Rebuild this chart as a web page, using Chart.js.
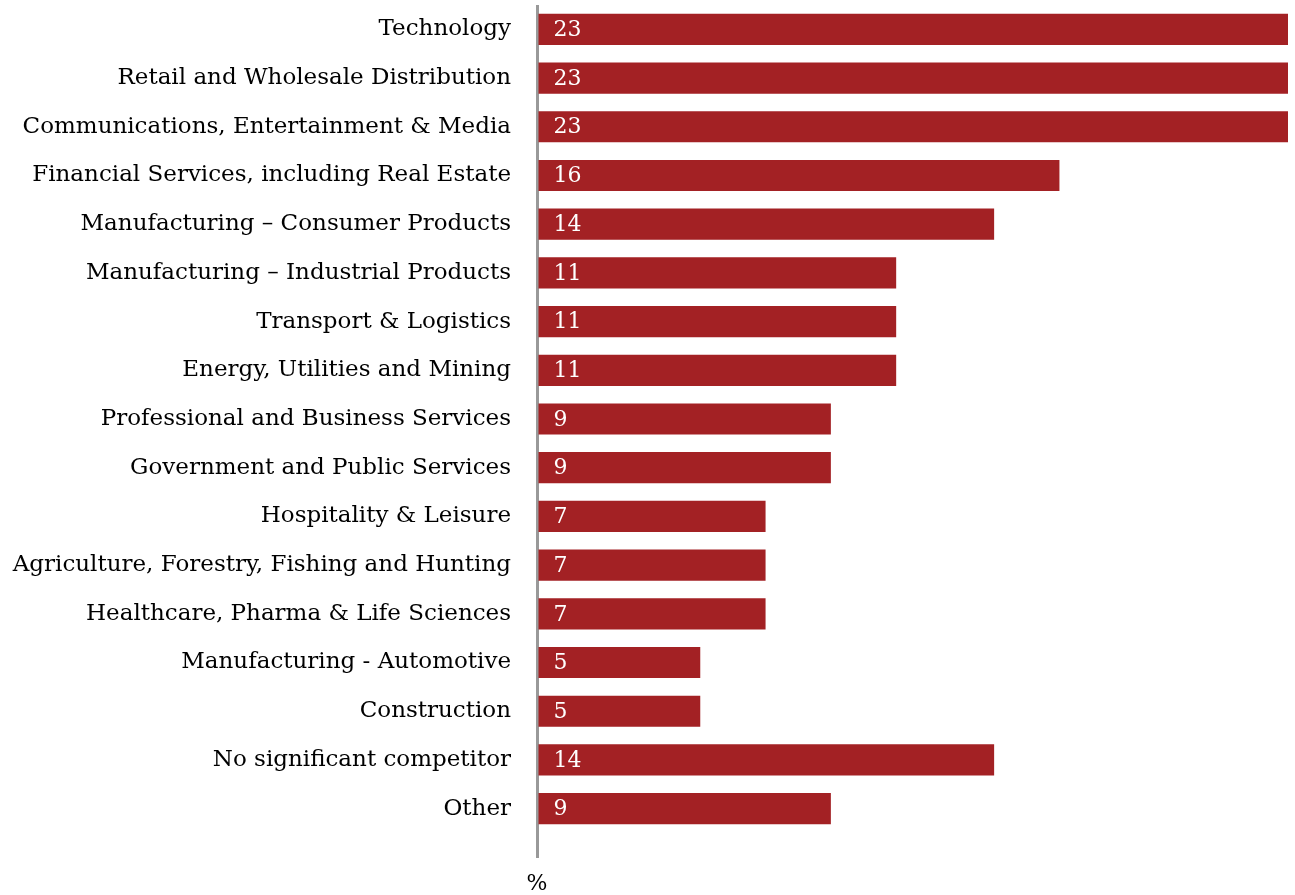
<!DOCTYPE html>
<html>
<head>
<meta charset="utf-8">
<script src="https://cdn.jsdelivr.net/npm/chart.js@4/dist/chart.umd.min.js"></script>
<style>
  html, body { margin: 0; padding: 0; background: #ffffff; }
  #wrap { width: 1295px; height: 895px; }
</style>
</head>
<body>
<div id="wrap"><canvas id="c"></canvas></div>
<script>
// Sectors and the share (%) citing each one
const categories = [
  'Technology',
  'Retail and Wholesale Distribution',
  'Communications, Entertainment & Media',
  'Financial Services, including Real Estate',
  'Manufacturing \u2013 Consumer Products',
  'Manufacturing \u2013 Industrial Products',
  'Transport & Logistics',
  'Energy, Utilities and Mining',
  'Professional and Business Services',
  'Government and Public Services',
  'Hospitality & Leisure',
  'Agriculture, Forestry, Fishing and Hunting',
  'Healthcare, Pharma & Life Sciences',
  'Manufacturing - Automotive',
  'Construction',
  'No significant competitor',
  'Other'
];
const shares = [23, 23, 23, 16, 14, 11, 11, 11, 9, 9, 7, 7, 7, 5, 5, 14, 9];
const axisUnit = '%';

const FONT = '"DejaVu Serif", "Liberation Serif", serif';

// Writes each bar's value in white just inside its left end
const valueLabels = {
  id: 'valueLabels',
  afterDatasetsDraw(chart) {
    const ctx = chart.ctx;
    const meta = chart.getDatasetMeta(0);
    ctx.save();
    ctx.fillStyle = '#ffffff';
    ctx.font = '22px ' + FONT;
    ctx.textAlign = 'left';
    ctx.textBaseline = 'middle';
    meta.data.forEach((bar, i) => {
      ctx.fillText(String(shares[i]), bar.base + 15, bar.y + 1);
    });
    ctx.restore();
  }
};

new Chart(document.getElementById('c'), {
  type: 'bar',
  data: {
    labels: categories,
    datasets: [{
      data: shares,
      backgroundColor: '#a32124',
      borderWidth: 0,
      barPercentage: 0.8,
      categoryPercentage: 0.8
    }]
  },
  options: {
    indexAxis: 'y',
    responsive: true,
    maintainAspectRatio: false,
    animation: false,
    layout: { padding: { top: 5, right: 7, bottom: 0, left: 0 } },
    plugins: {
      legend: { display: false },
      tooltip: { enabled: false }
    },
    scales: {
      x: {
        min: 0,
        max: 23,
        border: { display: false },
        grid: {
          drawOnChartArea: true,
          drawTicks: true,
          tickLength: 25,
          lineWidth: 3,
          color: (c) => (c.tick && c.tick.value === 0 ? '#999999' : 'rgba(0,0,0,0)')
        },
        ticks: {
          stepSize: 5,
          padding: 13,
          maxRotation: 0,
          color: '#000000',
          font: { family: FONT, size: 22 },
          callback: (v) => (v === 0 ? axisUnit : '')
        },
        afterFit: (scale) => {
          scale.height = 62;
          scale.paddingLeft = 0;
          scale.paddingRight = 0;
        }
      },
      y: {
        border: { display: false },
        grid: { display: false, drawTicks: false },
        ticks: {
          padding: 26,
          color: '#000000',
          font: { family: FONT, size: 23 }
        },
        afterFit: (scale) => {
          scale.width = 537;
          scale.paddingTop = 0;
          scale.paddingBottom = 0;
        }
      }
    }
  },
  plugins: [valueLabels]
});
</script>
</body>
</html>
